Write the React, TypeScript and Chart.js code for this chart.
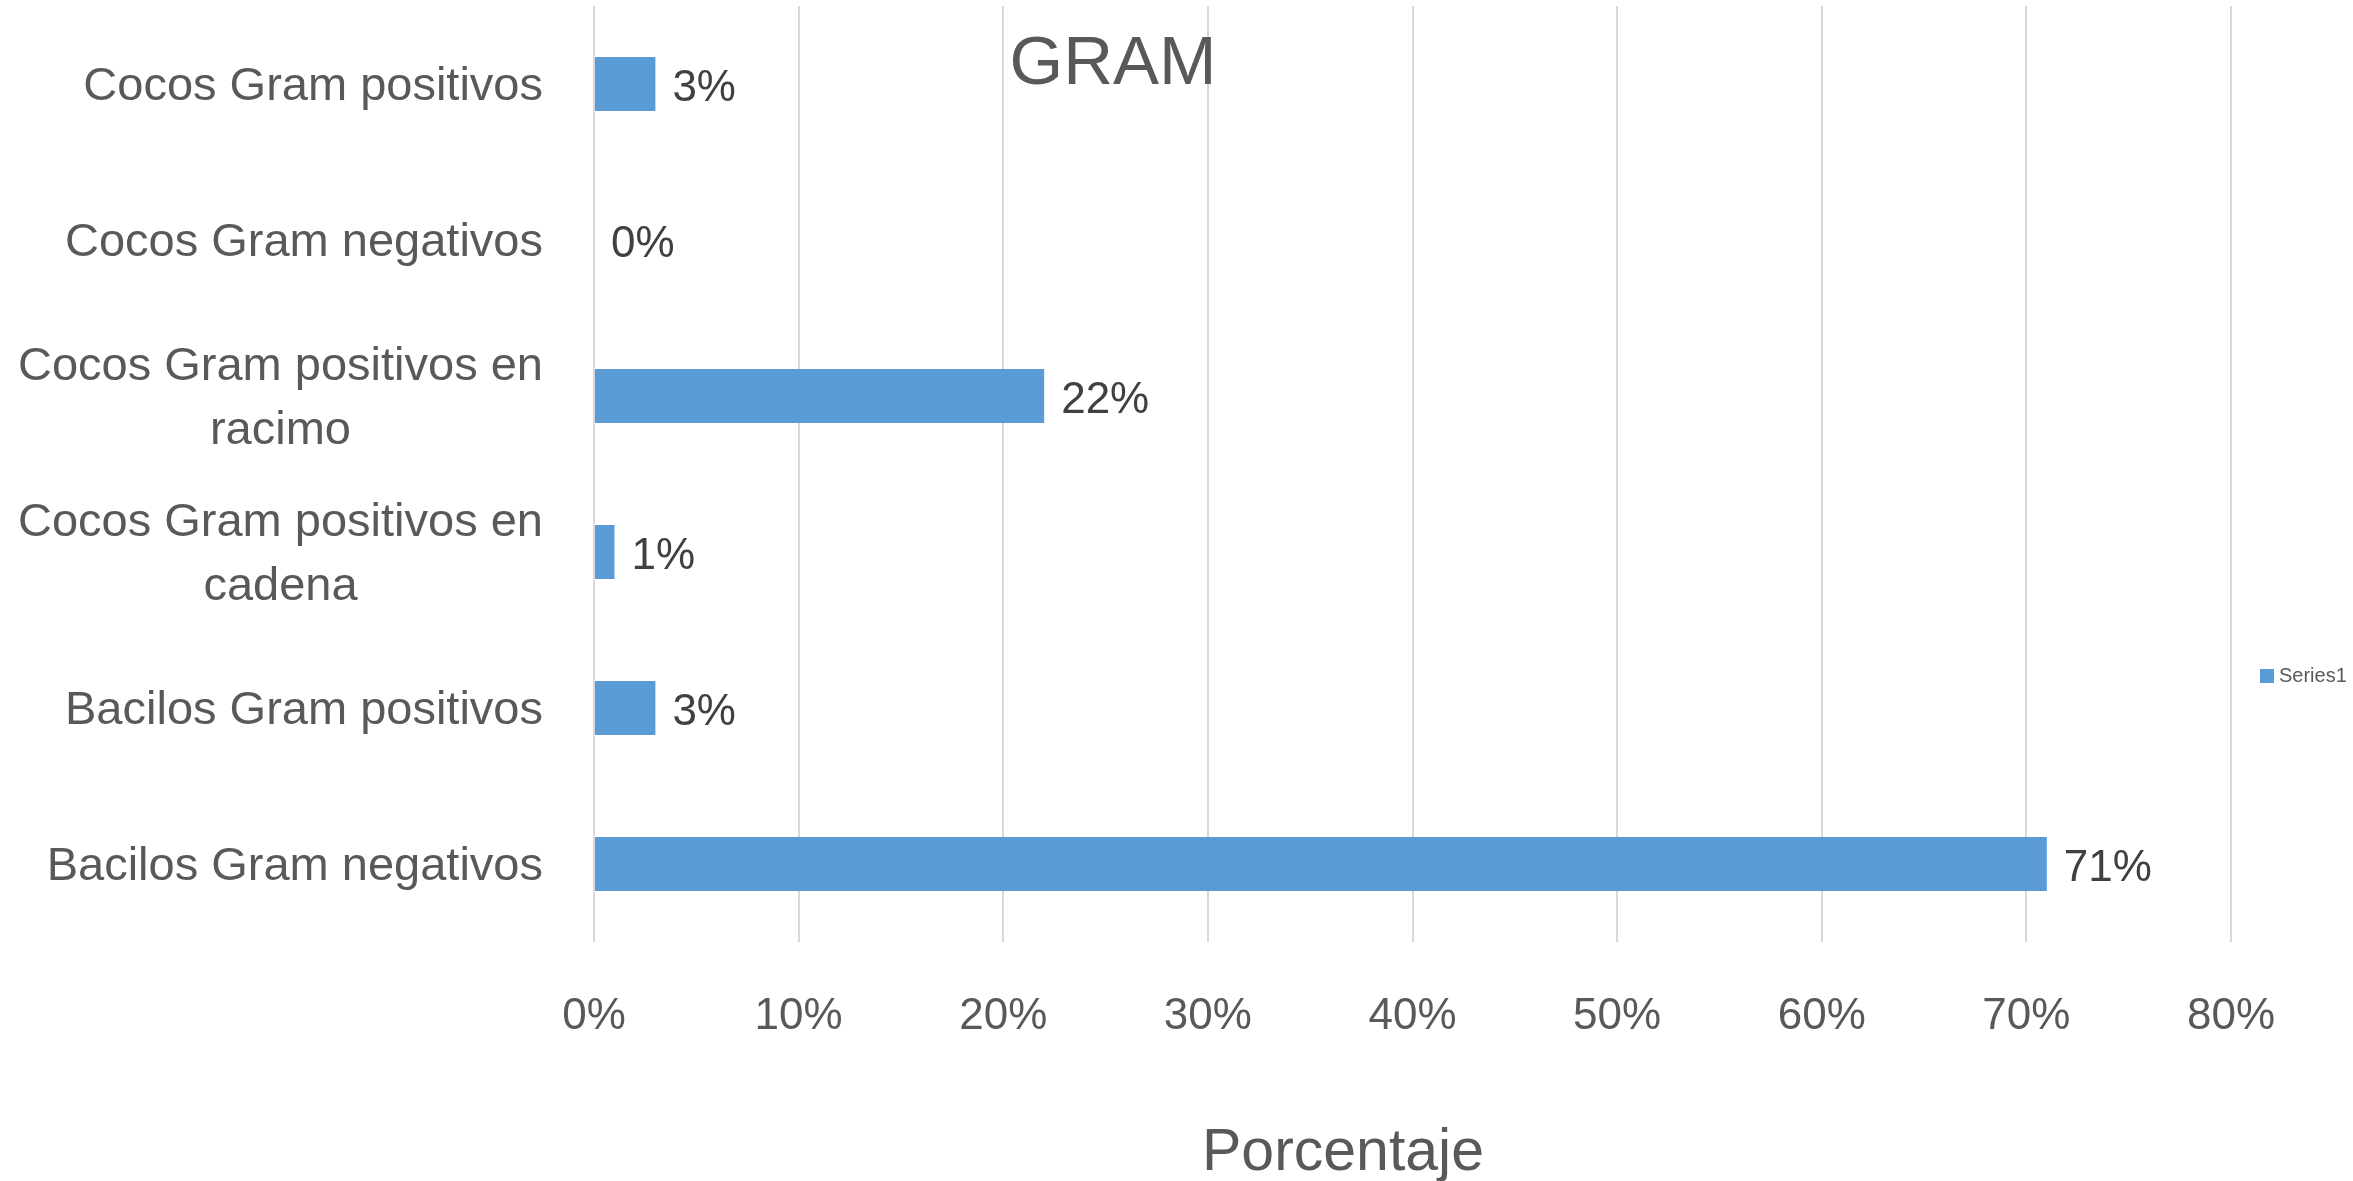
import React, { useEffect, useRef } from 'react';
import { Chart, registerables } from 'chart.js';

Chart.register(...registerables);

// Category labels (top to bottom); multi-line entries are wrapped lines
const categories: string[][] = [
  ['Cocos Gram positivos'],
  ['Cocos Gram negativos'],
  ['Cocos Gram positivos en', 'racimo'],
  ['Cocos Gram positivos en', 'cadena'],
  ['Bacilos Gram positivos'],
  ['Bacilos Gram negativos'],
];
const percentages: number[] = [3, 0, 22, 1, 3, 71];
const seriesName = 'Series1';
const chartTitle = 'GRAM';
const axisTitle = 'Porcentaje';
const axisMin = 0;
const axisMax = 80;
const axisStep = 10;

const WIDTH = 2353;
const HEIGHT = 1181;
const FONT = '"Liberation Sans", Arial, sans-serif';
const BAR_COLOR = '#5b9bd5';
const TEXT_COLOR = '#595959';
const LABEL_COLOR = '#404040';

// Category labels: block right-aligned next to the plot, lines centred within the block
const categoryLabelsPlugin = {
  id: 'categoryLabels',
  afterDraw(chart: any) {
    const { ctx } = chart;
    const yScale = chart.scales.y;
    const right = chart.chartArea.left - 51;
    const lineHeight = 64.5;
    ctx.save();
    ctx.font = `47px ${FONT}`;
    ctx.fillStyle = TEXT_COLOR;
    ctx.textBaseline = 'middle';
    ctx.textAlign = 'center';
    categories.forEach((lines, i) => {
      const cy = yScale.getPixelForTick(i) + 3;
      const maxW = Math.max(...lines.map((l) => ctx.measureText(l).width));
      const cx = right - maxW / 2;
      const startY = cy - ((lines.length - 1) * lineHeight) / 2;
      lines.forEach((line, j) => {
        ctx.fillText(line, cx, startY + j * lineHeight);
      });
    });
    ctx.restore();
  },
};

// Value labels at the end of each bar
const valueLabelsPlugin = {
  id: 'valueLabels',
  afterDatasetsDraw(chart: any) {
    const { ctx } = chart;
    const meta = chart.getDatasetMeta(0);
    ctx.save();
    ctx.font = `44px ${FONT}`;
    ctx.fillStyle = LABEL_COLOR;
    ctx.textBaseline = 'middle';
    ctx.textAlign = 'left';
    meta.data.forEach((bar: any, i: number) => {
      ctx.fillText(`${percentages[i]}%`, bar.x + 17, bar.y + 5);
    });
    ctx.restore();
  },
};

// Overlay chart title, axis title and legend
const decorationsPlugin = {
  id: 'decorations',
  afterDraw(chart: any) {
    const { ctx } = chart;
    ctx.save();
    ctx.fillStyle = TEXT_COLOR;
    ctx.textBaseline = 'middle';

    ctx.textAlign = 'center';
    ctx.font = `69px ${FONT}`;
    ctx.fillText(chartTitle, 1113, 65);

    ctx.font = `59px ${FONT}`;
    ctx.fillText(axisTitle, 1343, 1154);

    ctx.fillStyle = BAR_COLOR;
    ctx.fillRect(2260, 669, 14, 14);
    ctx.fillStyle = TEXT_COLOR;
    ctx.textAlign = 'left';
    ctx.font = `20px ${FONT}`;
    ctx.fillText(seriesName, 2279, 676);
    ctx.restore();
  },
};

export default function App() {
  const canvasRef = useRef<HTMLCanvasElement | null>(null);

  useEffect(() => {
    if (!canvasRef.current) return;
    const chart = new Chart(canvasRef.current, {
      type: 'bar',
      data: {
        labels: categories.map((c) => c.join(' ')),
        datasets: [
          {
            label: seriesName,
            data: percentages,
            backgroundColor: BAR_COLOR,
            borderWidth: 0,
            categoryPercentage: 1,
            barPercentage: 0.346,
          },
        ],
      },
      options: {
        indexAxis: 'y',
        animation: false,
        responsive: false,
        devicePixelRatio: 1,
        layout: { padding: { top: 6, right: 122, left: 0, bottom: 0 } },
        plugins: {
          legend: { display: false },
          title: { display: false },
          tooltip: { enabled: false },
        },
        scales: {
          x: {
            type: 'linear',
            min: axisMin,
            max: axisMax,
            ticks: {
              stepSize: axisStep,
              callback: (v: any) => `${v}%`,
              font: { family: FONT, size: 44 },
              color: TEXT_COLOR,
              padding: 48,
              maxRotation: 0,
            },
            grid: { color: '#d9d9d9', lineWidth: 2, drawTicks: false },
            border: { display: false },
            afterFit: (s: any) => {
              s.height = 239;
            },
          },
          y: {
            type: 'category',
            ticks: { display: false },
            grid: { display: false, drawTicks: false },
            border: { display: false },
            afterFit: (s: any) => {
              s.width = 594;
            },
          },
        },
      },
      plugins: [categoryLabelsPlugin, valueLabelsPlugin, decorationsPlugin],
    } as any);
    return () => chart.destroy();
  }, []);

  return (
    <div style={{ position: 'absolute', left: 0, top: 0, width: WIDTH, height: HEIGHT, background: '#fff' }}>
      <canvas ref={canvasRef} width={WIDTH} height={HEIGHT} style={{ display: 'block' }} />
    </div>
  );
}
